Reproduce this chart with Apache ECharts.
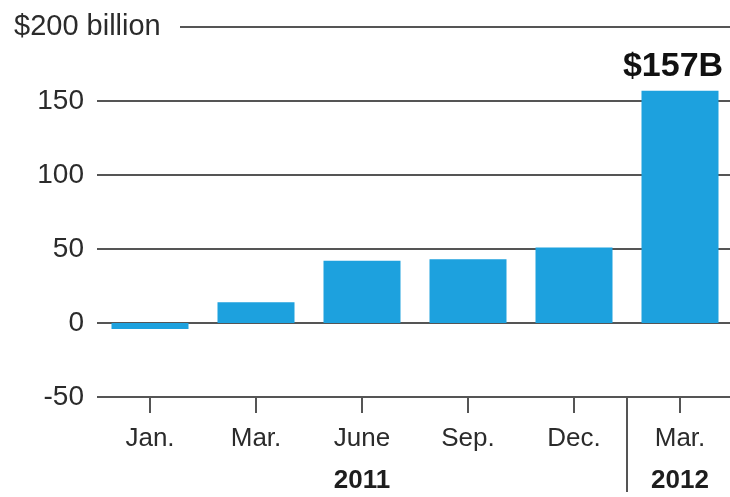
<!DOCTYPE html>
<html>
<head>
<meta charset="utf-8">
<script src="https://cdn.jsdelivr.net/npm/echarts@6/dist/echarts.min.js"></script>
<style>
  html, body { margin: 0; padding: 0; background: #fff; }
  #chart { width: 730px; height: 497px; }
</style>
</head>
<body>
<div id="chart"></div>
<script>
var months = ['Jan.', 'Mar.', 'June', 'Sep.', 'Dec.', 'Mar.'];
var yearOf = ['2011', '2011', '2011', '2011', '2011', '2012'];
var yearLabels = ['', '', '2011', '', '', '2012'];
var values = [-4, 14, 42, 43, 51, 157];
var yMin = -50;
var yMax = 200;
var yStep = 50;
var topLabel = '$157B';
var yearBreak = 5; // the divider sits before this category

var categories = months.map(function (m, i) { return m + ' ' + yearOf[i]; });
// category boundaries, used only for the year divider
var bounds = [];
for (var i = 0; i <= categories.length; i++) bounds.push('b' + i);

var font = 'Liberation Sans, Arial, Helvetica, sans-serif';
var lineColor = '#555';
var textColor = '#2b2b2b';

var dom = document.getElementById('chart');
var myChart = echarts.init(dom);

var option = {
  animation: false,
  grid: { left: 97, right: -3, top: 27, bottom: 100, containLabel: false, outerBoundsMode: 'none' },
  xAxis: [
    {
      type: 'category',
      data: categories,
      position: 'bottom',
      axisLine: { show: false, onZero: false },
      axisTick: {
        show: true,
        alignWithLabel: true,
        length: 16,
        lineStyle: { color: lineColor, width: 2 }
      },
      axisLabel: {
        interval: 0,
        margin: 21,
        color: textColor,
        fontFamily: font,
        fontSize: 26,
        lineHeight: 42,
        formatter: function (value, index) {
          var m = months[index];
          return yearLabels[index] ? m + '\n{y|' + yearLabels[index] + '}' : m;
        },
        rich: {
          y: { fontFamily: font, fontSize: 26, fontWeight: 'bold', color: '#1e1e1e', lineHeight: 42 }
        }
      }
    },
    {
      type: 'category',
      data: bounds,
      boundaryGap: false,
      position: 'bottom',
      axisLine: { show: false, onZero: false },
      axisLabel: { show: false },
      axisTick: {
        show: true,
        interval: function (index) { return index === yearBreak; },
        length: 95,
        lineStyle: { color: lineColor, width: 2 }
      }
    }
  ],
  yAxis: {
    type: 'value',
    min: yMin,
    max: yMax,
    interval: yStep,
    axisLine: { show: false },
    axisTick: { show: false },
    splitLine: { show: true, lineStyle: { color: lineColor, width: 2 } },
    axisLabel: {
      align: 'left',
      margin: 83,
      color: textColor,
      fontFamily: font,
      fontSize: 28,
      formatter: function (v) {
        if (v === yMax) return '{b|$' + v + ' billion}';
        return '{n|' + v + '}';
      },
      rich: {
        n: { width: 70, align: 'right', fontFamily: font, fontSize: 28, color: textColor },
        b: { width: 166, align: 'left', fontFamily: font, fontSize: 29, color: textColor,
             backgroundColor: '#fff', height: 30 }
      }
    }
  },
  series: [
    {
      type: 'bar',
      data: values,
      barWidth: 77,
      itemStyle: { color: '#1da1de' },
      label: {
        show: true,
        position: 'top',
        distance: 7,
        offset: [-7, 0],
        fontFamily: font,
        fontSize: 34,
        fontWeight: 'bold',
        color: '#111',
        formatter: function (p) {
          return p.dataIndex === values.length - 1 ? topLabel : '';
        }
      }
    }
  ]
};

if (option && typeof option === 'object') {
  myChart.setOption(option);
}
</script>
</body>
</html>
